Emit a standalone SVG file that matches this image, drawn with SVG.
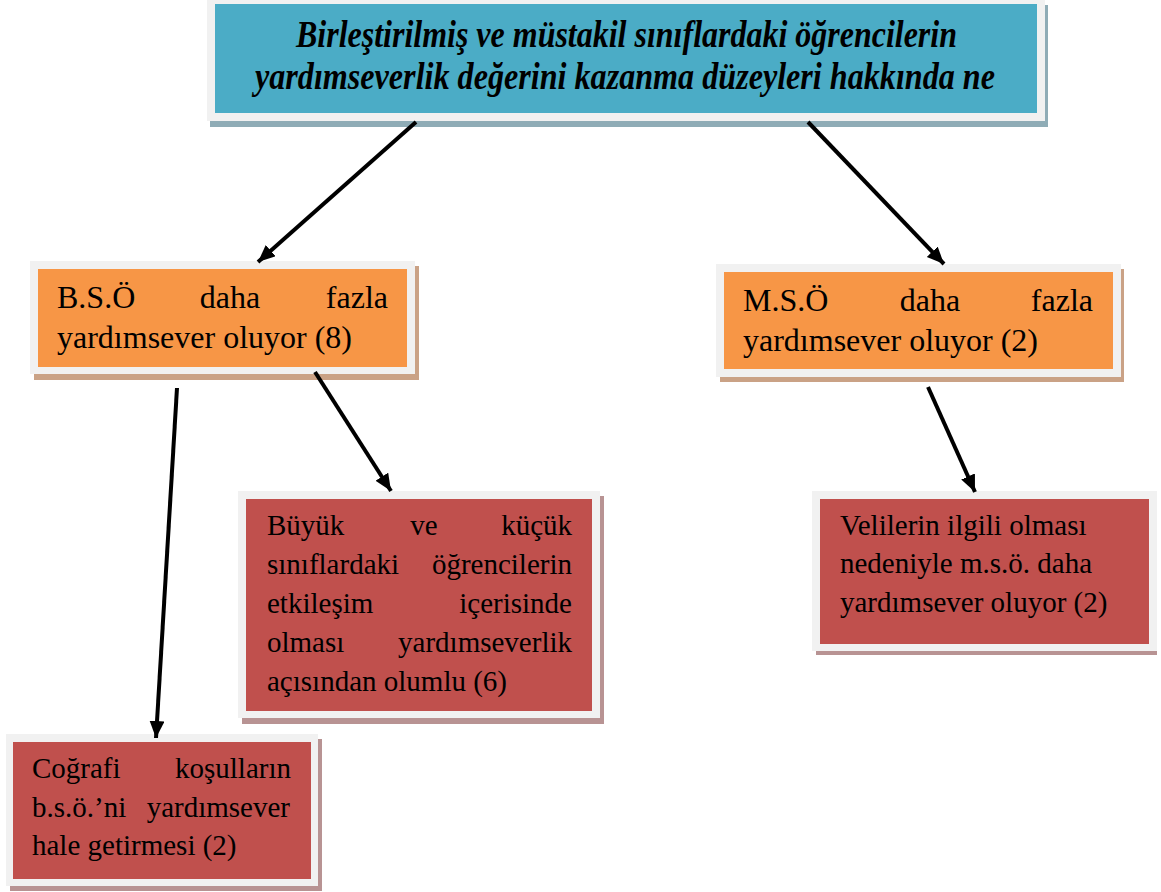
<svg xmlns="http://www.w3.org/2000/svg" width="1161" height="892" viewBox="0 0 1161 892">
  <style>
    .frame { fill: #f1f1f1; }
    .sh-teal { fill: #8facb6; }
    .sh-orange { fill: #caa286; }
    .sh-red { fill: #b89393; }
    .teal { fill: #4bacc6; }
    .orange { fill: #f79646; }
    .red { fill: #c0504d; }
    .title { font-family: "Liberation Serif", "Times New Roman", serif; font-weight: bold; font-style: italic; font-size: 37px; fill: #000; }
    .big { font-family: "Liberation Serif", "Times New Roman", serif; font-size: 32px; fill: #000; }
    .body { font-family: "Liberation Serif", "Times New Roman", serif; font-size: 29px; fill: #000; }
    .link { stroke: #000; stroke-width: 4; fill: none; marker-end: url(#head); }
  </style>
  <defs>
    <marker id="head" markerUnits="userSpaceOnUse" markerWidth="18" markerHeight="16" refX="17" refY="7.5" orient="auto">
      <path d="M0,0 L17,7.5 L0,15 z" fill="#000"/>
    </marker>
  </defs>
  <rect width="1161" height="892" fill="#fff"/>

  <!-- question -->
  <g id="node-question">
    <rect class="sh-teal" x="210" y="5" width="838" height="122"/>
    <rect class="frame" x="207" y="0" width="838" height="121"/>
    <rect class="teal" x="215" y="4" width="822" height="109"/>
    <text class="title" x="296" y="47" textLength="661" lengthAdjust="spacingAndGlyphs">Birleştirilmiş ve müstakil sınıflardaki öğrencilerin</text>
    <text class="title" x="255" y="89" textLength="740" lengthAdjust="spacingAndGlyphs">yardımseverlik değerini kazanma düzeyleri hakkında ne</text>
  </g>

  <!-- B.S.Ö answer -->
  <g id="node-bso">
    <rect class="sh-orange" x="34" y="266" width="385" height="114"/>
    <rect class="frame" x="30" y="261" width="385" height="113"/>
    <rect class="orange" x="38" y="269" width="369" height="98"/>
    <text class="big" x="57" y="308">B.S.Ö</text>
    <text class="big" x="230" y="308" text-anchor="middle">daha</text>
    <text class="big" x="388" y="308" text-anchor="end">fazla</text>
    <text class="big" x="57" y="348">yardımsever oluyor (8)</text>
  </g>

  <!-- M.S.Ö answer -->
  <g id="node-mso">
    <rect class="sh-orange" x="720" y="269" width="404" height="113"/>
    <rect class="frame" x="716" y="264" width="405" height="113"/>
    <rect class="orange" x="724" y="272" width="389" height="97"/>
    <text class="big" x="743" y="311">M.S.Ö</text>
    <text class="big" x="930" y="311" text-anchor="middle">daha</text>
    <text class="big" x="1093" y="311" text-anchor="end">fazla</text>
    <text class="big" x="743" y="351">yardımsever oluyor (2)</text>
  </g>

  <!-- interaction between classes -->
  <g id="node-interaction">
    <rect class="sh-red" x="242" y="496" width="362" height="228"/>
    <rect class="frame" x="238" y="491" width="362" height="227"/>
    <rect class="red" x="246" y="499" width="346" height="212"/>
    <text class="body" x="267" y="535">Büyük</text>
    <text class="body" x="424" y="535" text-anchor="middle">ve</text>
    <text class="body" x="572" y="535" text-anchor="end">küçük</text>
    <text class="body" x="267" y="574">sınıflardaki</text>
    <text class="body" x="572" y="574" text-anchor="end">öğrencilerin</text>
    <text class="body" x="267" y="613">etkileşim</text>
    <text class="body" x="572" y="613" text-anchor="end">içerisinde</text>
    <text class="body" x="267" y="652">olması</text>
    <text class="body" x="572" y="652" text-anchor="end">yardımseverlik</text>
    <text class="body" x="267" y="691">açısından olumlu (6)</text>
  </g>

  <!-- parents -->
  <g id="node-parents">
    <rect class="sh-red" x="816" y="495" width="341" height="160"/>
    <rect class="frame" x="812" y="491" width="345" height="160"/>
    <rect class="red" x="820" y="499" width="329" height="145"/>
    <text class="body" x="840" y="535">Velilerin ilgili olması</text>
    <text class="body" x="840" y="573">nedeniyle m.s.ö. daha</text>
    <text class="body" x="840" y="612">yardımsever oluyor (2)</text>
  </g>

  <!-- geography -->
  <g id="node-geography">
    <rect class="sh-red" x="10" y="739" width="312" height="152"/>
    <rect class="frame" x="6" y="734" width="312" height="152"/>
    <rect class="red" x="13" y="742" width="298" height="137"/>
    <text class="body" x="32" y="778">Coğrafi</text>
    <text class="body" x="291" y="778" text-anchor="end">koşulların</text>
    <text class="body" x="32" y="817">b.s.ö.’ni</text>
    <text class="body" x="290" y="817" text-anchor="end">yardımsever</text>
    <text class="body" x="32" y="855">hale getirmesi (2)</text>
  </g>

  <!-- connectors -->
  <g id="connectors">
    <line class="link" x1="416" y1="122" x2="258" y2="262"/>
    <line class="link" x1="808" y1="122" x2="944" y2="264"/>
    <line class="link" x1="177" y1="388" x2="156" y2="738"/>
    <line class="link" x1="315" y1="372" x2="391" y2="491"/>
    <line class="link" x1="928" y1="387" x2="975" y2="492"/>
  </g>
</svg>
